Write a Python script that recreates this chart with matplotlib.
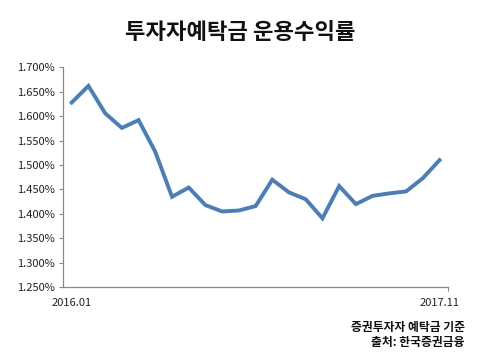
import matplotlib.pyplot as plt
from matplotlib.ticker import FuncFormatter

plt.rcParams["font.family"] = ["Noto Sans CJK KR", "DejaVu Sans"]

# 2016.01 ~ 2017.11 월별 운용수익률 (%)
months = ["2016.01", "2016.02", "2016.03", "2016.04", "2016.05", "2016.06",
          "2016.07", "2016.08", "2016.09", "2016.10", "2016.11", "2016.12",
          "2017.01", "2017.02", "2017.03", "2017.04", "2017.05", "2017.06",
          "2017.07", "2017.08", "2017.09", "2017.10", "2017.11"]
rates = [1.628, 1.662, 1.606, 1.576, 1.592, 1.527, 1.435, 1.454, 1.418, 1.405,
         1.407, 1.416, 1.470, 1.444, 1.430, 1.391, 1.457, 1.420, 1.437, 1.442,
         1.446, 1.473, 1.510]
yticks = [1.25, 1.30, 1.35, 1.40, 1.45, 1.50, 1.55, 1.60, 1.65, 1.70]

fig = plt.figure(figsize=(4.8, 3.64), dpi=100)
ax = fig.add_axes([0.132, 0.211, 0.801, 0.604])

x = list(range(len(months)))
ax.plot(x, rates, color="#4A7EBB", linewidth=2.8, solid_joinstyle="miter")

ax.set_xlim(-0.5, len(months) - 0.5)
ax.set_ylim(1.25, 1.70)
ax.set_yticks(yticks)
ax.yaxis.set_major_formatter(FuncFormatter(lambda v, p: f"{v:.3f}%"))

ax.set_xticks([0, len(months) - 1])
ax.set_xticklabels([months[0], months[-1]])
ax.set_xticks([len(months) - 0.5], minor=True)
ax.tick_params(axis="x", which="major", length=0, pad=8, labelsize=8, colors="#222222")
ax.tick_params(axis="x", which="minor", length=3, width=0.8, color="#888888")
ax.tick_params(axis="y", length=3, width=0.8, color="#888888", labelsize=8,
               labelcolor="#222222", pad=3)

for s in ["top", "right"]:
    ax.spines[s].set_visible(False)
for s in ["left", "bottom"]:
    ax.spines[s].set_color("#888888")
    ax.spines[s].set_linewidth(0.9)

fig.text(0.5, 0.91, "투자자예탁금 운용수익률", ha="center", va="center",
         fontsize=16, fontweight="bold", color="#111111")
fig.text(0.968, 0.099, "증권투자자 예탁금 기준", ha="right", va="center",
         fontsize=8.5, fontweight="bold", color="#111111")
fig.text(0.968, 0.058, "출처: 한국증권금융", ha="right", va="center",
         fontsize=8.5, fontweight="bold", color="#111111")

fig.savefig("out.png", dpi=100)
